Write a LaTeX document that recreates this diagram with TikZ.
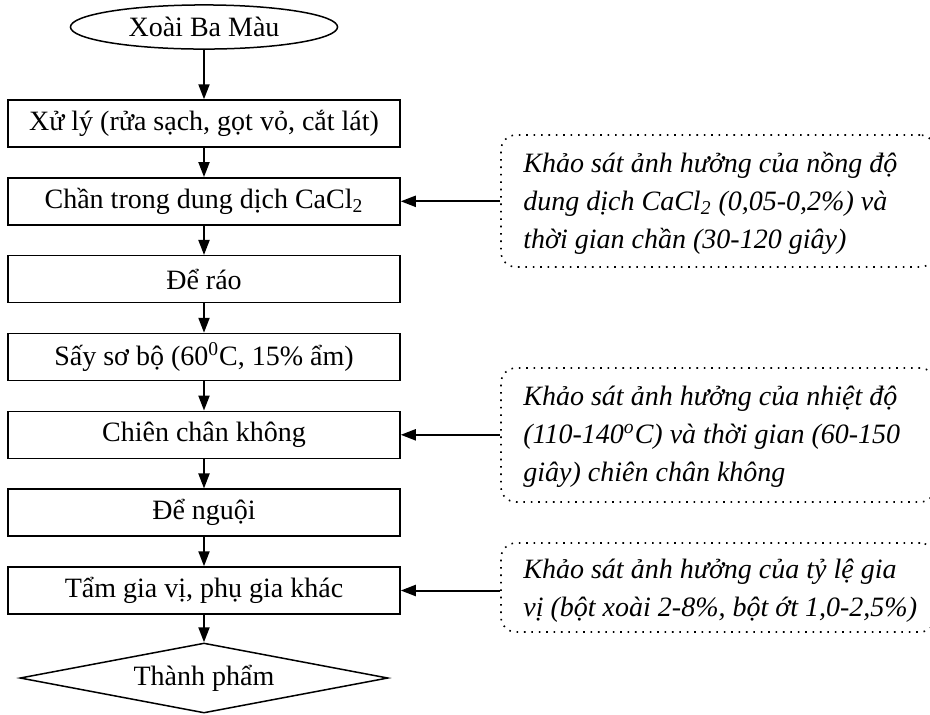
\documentclass[tikz,border=0pt]{standalone}
\usepackage{fontspec}
\setmainfont{Liberation Serif}
\usetikzlibrary{positioning}
\usetikzlibrary{shapes.geometric}
\usetikzlibrary{arrows.meta}

\begin{document}
\begin{tikzpicture}[x=0.5pt, y=-0.5pt,
  every node/.style={font=\fontsize{14}{19}\selectfont},
  stepbox/.style={draw, line width=0.75pt, minimum width=196pt, minimum height=23.5pt, inner sep=0pt},
  startbox/.style={draw, ellipse, line width=0.75pt, text height=9.5pt, text depth=0.5pt, inner xsep=9.5pt, inner ysep=2.8pt},
  endbox/.style={draw, diamond, aspect=5.3, line width=0.75pt, minimum width=184pt, minimum height=35pt, inner sep=0pt},
  notebox/.style={draw, line width=0.8pt, dash pattern=on 0.8pt off 2.9pt, rounded corners=7.5pt, minimum width=217pt, inner sep=0pt},
  notetext/.style={anchor=west, align=left, font=\fontsize{14}{19}\selectfont\itshape, inner sep=0pt},
  arr/.style={line width=1pt, -{Triangle[length=7.5pt, width=5.5pt]}}]
\useasboundingbox (0,0) rectangle (930,714);
% process steps
\node[startbox] (xoai) at (204,27) {Xoài Ba Màu};
\node[stepbox] (xuly) at (204,123.5) {Xử lý (rửa sạch, gọt vỏ, cắt lát)};
\node[stepbox] (chan) at (204,201.3) {Chần trong dung dịch CaCl\textsubscript{2}};
\node[stepbox] (rao) at (204,279.2) {Để ráo};
\node[stepbox] (say) at (204,357) {Sấy sơ bộ (60\textsuperscript{0}C, 15\% ẩm)};
\node[stepbox] (chien) at (204,434.8) {Chiên chân không};
\node[stepbox] (nguoi) at (204,512.7) {Để nguội};
\node[stepbox] (tam) at (204,590.5) {Tẩm gia vị, phụ gia khác};
\node[endbox] (thanhpham) at (204,678) {Thành phẩm};
\draw[arr] (xoai) -- (xuly);
\draw[arr] (xuly) -- (chan);
\draw[arr] (chan) -- (rao);
\draw[arr] (rao) -- (say);
\draw[arr] (say) -- (chien);
\draw[arr] (chien) -- (nguoi);
\draw[arr] (nguoi) -- (tam);
\draw[arr] (tam) -- (thanhpham);
% surveys
\node[notebox, minimum height=66pt] (ks1) at (718,201) {};
\node[notetext] (ks1t) at (523,203) {Khảo sát ảnh hưởng của nồng độ\\ dung dịch CaCl\textsubscript{2} (0,05-0,2\%) và\\ thời gian chần (30-120 giây)};
\node[notebox, minimum height=67pt] (ks2) at (718,435) {};
\node[notetext] (ks2t) at (523,437) {Khảo sát ảnh hưởng của nhiệt độ\\ (110-140\textsuperscript{o}C) và thời gian (60-150\\ giây) chiên chân không};
\node[notebox, minimum height=44.5pt] (ks3) at (718,587.5) {};
\node[notetext] (ks3t) at (523,591) {Khảo sát ảnh hưởng của tỷ lệ gia\\ vị (bột xoài 2-8\%, bột ớt 1,0-2,5\%)};
\draw[arr] (ks1.west |- chan) -- (chan.east);
\draw[arr] (ks2.west |- chien) -- (chien.east);
\draw[arr] (ks3.west |- tam) -- (tam.east);
\end{tikzpicture}
\end{document}
